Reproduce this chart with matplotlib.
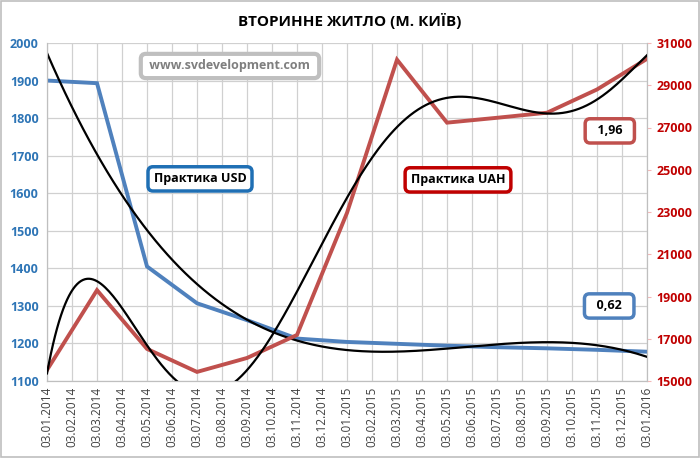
import numpy as np
import matplotlib.pyplot as plt
from matplotlib.patches import Rectangle

# monthly labels on the axis, data points every two months
month_labels = ["03.01.2014", "03.02.2014", "03.03.2014", "03.04.2014", "03.05.2014",
                "03.06.2014", "03.07.2014", "03.08.2014", "03.09.2014", "03.10.2014",
                "03.11.2014", "03.12.2014", "03.01.2015", "03.02.2015", "03.03.2015",
                "03.04.2015", "03.05.2015", "03.06.2015", "03.07.2015", "03.08.2015",
                "03.09.2015", "03.10.2015", "03.11.2015", "03.12.2015", "03.01.2016"]
data_months = [0, 2, 4, 6, 8, 10, 12, 14, 16, 18, 20, 22, 24]
usd_price = [1900, 1893, 1405, 1307, 1262, 1213, 1204, 1199, 1194, 1190, 1187, 1183, 1178]
uah_price = [15520, 19300, 16520, 15430, 16090, 17180, 22960, 30210, 27230, 27460, 27700, 28800, 30250]

usd_yticks = list(range(1100, 2001, 100))
uah_yticks = list(range(15000, 31001, 2000))

BLUE = "#4F81BD"
RED = "#C0504D"

plt.rcParams['font.family'] = ['Open Sans', 'DejaVu Sans']

fig = plt.figure(figsize=(7, 4.58), dpi=100)
ax = fig.add_axes([47 / 700, 77 / 458, 600 / 700, 338 / 458])
ax2 = ax.twinx()

x = np.arange(len(month_labels))
xs = np.linspace(0, 24, 300)

ax.plot(data_months, usd_price, color=BLUE, lw=2.8, solid_joinstyle='miter', zorder=3)
usd_fit = np.polyfit(data_months, usd_price, 4)
ax.plot(xs, np.polyval(usd_fit, xs), color='black', lw=1.6, zorder=4)

ax2.plot(data_months, uah_price, color=RED, lw=2.8, solid_joinstyle='miter', zorder=3)
uah_fit = np.polyfit(data_months, uah_price, 6)
ax2.plot(xs, np.polyval(uah_fit, xs), color='black', lw=1.6, zorder=4)

ax.set_xlim(0, 24)
ax.set_ylim(1100, 2000)
ax2.set_ylim(15000, 31000)
ax.set_xticks(x)
ax.set_xticklabels(month_labels, rotation=90, fontsize=8.5, color='#404040')
ax.set_yticks(usd_yticks)
ax2.set_yticks(uah_yticks)
for lab in ax.get_yticklabels():
    lab.set_color('#2E75B6')
    lab.set_fontweight('bold')
    lab.set_fontsize(9)
for lab in ax2.get_yticklabels():
    lab.set_color('#C00000')
    lab.set_fontweight('bold')
    lab.set_fontsize(9)

ax.grid(True, color='#D0D0D0', lw=0.9)
ax.set_axisbelow(True)
ax.tick_params(axis='x', length=0, pad=4)
ax.tick_params(axis='y', length=0, pad=6)
ax2.tick_params(axis='y', length=3, color='#F2B8B8', pad=4)
for a in (ax, ax2):
    for s in a.spines.values():
        s.set_color('#BFBFBF')
    a.spines['top'].set_visible(False)

fig.text(0.5, 0.955, "ВТОРИННЕ ЖИТЛО (М. КИЇВ)", ha='center', va='center',
         fontsize=11, fontweight='bold')


def label_box(text, xf, yf, edge, tcolor='black', lw=2.5):
    ax2.text(xf, yf, text, transform=ax.transAxes, ha='center', va='center',
             fontsize=9, fontweight='bold', color=tcolor, zorder=10,
             bbox=dict(boxstyle='round,pad=0.45,rounding_size=0.4', fc='white',
                       ec=edge, lw=lw))


label_box(" www.svdevelopment.com ", 0.305, 0.932, '#BFBFBF', tcolor='#7F7F7F', lw=3)
label_box("Практика USD", 0.255, 0.598, '#1F6FB4')
label_box("Практика UAH", 0.685, 0.595, '#C00000')
label_box("  1,96  ", 0.938, 0.740, RED)
label_box("  0,62  ", 0.937, 0.222, BLUE)

fig.add_artist(Rectangle((0.002, 0.003), 0.996, 0.994, transform=fig.transFigure,
                         fill=False, ec='#BFBFBF', lw=1.2))

fig.savefig("out.png", dpi=100)
